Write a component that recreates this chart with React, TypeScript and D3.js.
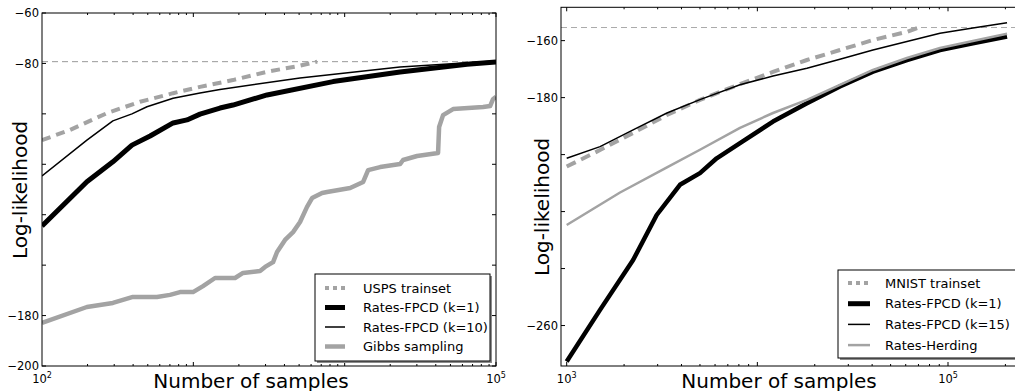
import React from "react";
import * as d3 from "d3";

const W = 1015;
const H = 391;

// ---- left panel (USPS) ----
const uspsTrainN = [100, 153, 269, 445, 735, 1107, 1828, 3070, 5070, 6580];
const uspsTrainLL = [-110.4, -106.4, -99.7, -95.2, -91.8, -89.3, -86.6, -83.3, -80.9, -79.3];

const uspsFpcd1N = [100, 198, 294, 393, 518, 735, 908, 1107, 1500, 1828, 3070, 8380, 23230, 64400, 100000];
const uspsFpcd1LL = [-144.5, -126.9, -119.0, -112.4, -108.8, -103.6, -102.4, -100.1, -97.7, -96.5, -92.5, -87.2, -83.4, -80.3, -79.4];

const uspsFpcd10N = [100, 198, 294, 393, 494, 735, 1107, 1500, 5070, 23230, 100000];
const uspsFpcd10LL = [-124.6, -110.4, -102.8, -100.0, -97.2, -93.8, -91.7, -90.3, -85.8, -81.4, -79.0];

const gibbsN = [100, 198, 294, 399, 575, 701, 817, 995, 1159, 1391, 1886, 2130, 2760, 2980, 3366, 3574, 4036, 4560, 5072, 5640, 6090, 7090, 7650, 10870, 13250, 14290, 17150, 23230, 24320, 30100, 41420, 42080, 44690, 52040, 82160, 91450, 95700, 100000];
const gibbsLL = [-182.9, -176.6, -175.0, -172.6, -172.6, -171.8, -170.7, -170.7, -168.3, -165.1, -165.1, -163.1, -162.3, -160.7, -158.8, -154.8, -150.0, -146.9, -142.9, -136.9, -133.4, -131.4, -131.0, -129.4, -127.0, -122.3, -121.1, -119.9, -118.3, -116.7, -115.5, -105.2, -100.5, -98.1, -97.3, -96.9, -94.1, -93.3];

const uspsRefLL = -79.3;

// ---- right panel (MNIST) ----
const mnistTrainN = [1000, 1496, 2230, 3356, 5000, 7450, 12070, 18200, 27100, 40400, 60900, 69500];
const mnistTrainLL = [-204.2, -198.4, -192.4, -186.1, -180.8, -176.2, -171.0, -166.8, -163.3, -159.8, -156.9, -155.5];

const mnistFpcd1N = [1000, 1496, 2230, 2965, 3926, 5000, 6120, 8110, 12080, 18200, 27100, 40400, 60900, 90800, 135000, 204000];
const mnistFpcd1LL = [-272.6, -254.5, -237.0, -221.2, -210.6, -206.5, -201.3, -196.0, -188.4, -182.0, -176.1, -170.9, -166.8, -163.3, -160.9, -158.6];

const mnistFpcd15N = [1000, 1496, 2230, 3356, 5000, 8110, 12080, 18200, 27100, 40400, 60900, 90800, 135000, 204000];
const mnistFpcd15LL = [-201.3, -197.2, -191.3, -185.4, -180.7, -175.5, -172.4, -169.7, -166.5, -163.3, -160.3, -157.4, -155.6, -153.7];

const herdingN = [1000, 1905, 3356, 5000, 8110, 12080, 18200, 27100, 40400, 60900, 90800, 135000, 204000];
const herdingLL = [-224.7, -213.3, -204.5, -198.3, -190.6, -185.4, -180.8, -175.5, -170.3, -166.1, -162.6, -160.1, -157.6];

const mnistRefLL = -155.4;

const GRAY = "#a3a3a3";
const FONT = "DejaVu Sans, sans-serif";

type Series = {
  n: number[];
  ll: number[];
  label: string;
  color: string;
  width: number;
  dash?: string;
  legendDash?: string;
  legendWidth: number;
};

const leftSeries: Series[] = [
  { n: uspsTrainN, ll: uspsTrainLL, label: "USPS trainset", color: GRAY, width: 4, dash: "9,6", legendDash: "4,4", legendWidth: 4 },
  { n: uspsFpcd1N, ll: uspsFpcd1LL, label: "Rates-FPCD (k=1)", color: "#000", width: 5, legendWidth: 5 },
  { n: uspsFpcd10N, ll: uspsFpcd10LL, label: "Rates-FPCD (k=10)", color: "#000", width: 1.5, legendWidth: 1.5 },
  { n: gibbsN, ll: gibbsLL, label: "Gibbs sampling", color: GRAY, width: 4.5, legendWidth: 4.5 },
];

const rightSeries: Series[] = [
  { n: mnistTrainN, ll: mnistTrainLL, label: "MNIST trainset", color: GRAY, width: 4, dash: "10,6", legendDash: "4,4", legendWidth: 4 },
  { n: mnistFpcd1N, ll: mnistFpcd1LL, label: "Rates-FPCD (k=1)", color: "#000", width: 4.5, legendWidth: 5 },
  { n: mnistFpcd15N, ll: mnistFpcd15LL, label: "Rates-FPCD (k=15)", color: "#000", width: 1.5, legendWidth: 1.5 },
  { n: herdingN, ll: herdingLL, label: "Rates-Herding", color: GRAY, width: 2.5, legendWidth: 2.5 },
];

type PanelProps = {
  id: string;
  left: number;
  right: number;
  top: number;
  bottom: number;
  x: d3.ScaleLogarithmic<number, number>;
  y: d3.ScaleLinear<number, number>;
  series: Series[];
  refLL: number;
  refColor: string;
  yTicks: number[];
  yLabeled: number[];
  xLabeled: number[];
  xTitleX: number;
  yTitleX: number;
  yTitleY: number;
  legend: { x0: number; x1: number; y0: number; y1: number; rowY: number; rowStep: number; lineX0: number; lineX1: number; textX: number };
};

const minus = (v: number) => (v < 0 ? "\u2212" + Math.abs(v) : String(v));

function Panel(p: PanelProps) {
  const { x, y } = p;
  const lo = x.invert(p.left);
  const hi = x.invert(p.right);
  const major: number[] = [];
  const minor: number[] = [];
  for (let d = Math.floor(Math.log10(lo)); d <= Math.ceil(Math.log10(hi)); d++) {
    for (let k = 1; k <= 9; k++) {
      const v = k * Math.pow(10, d);
      if (v < lo || v > hi) continue;
      (k === 1 ? major : minor).push(v);
    }
  }
  const line = d3
    .line<[number, number]>()
    .x((d) => x(d[0]))
    .y((d) => y(d[1]));
  const lg = p.legend;
  return (
    <g>
      <defs>
        <clipPath id={p.id}>
          <rect x={p.left} y={p.top} width={p.right - p.left} height={p.bottom - p.top} />
        </clipPath>
      </defs>
      <g clipPath={`url(#${p.id})`}>
        <line x1={p.left} x2={p.right} y1={y(p.refLL)} y2={y(p.refLL)} stroke={p.refColor} strokeWidth={1} strokeDasharray="6,4" />
        {p.series.map((s) => (
          <path
            key={s.label}
            d={line(s.n.map((n, i) => [n, s.ll[i]] as [number, number])) || ""}
            fill="none"
            stroke={s.color}
            strokeWidth={s.width}
            strokeDasharray={s.dash}
            strokeLinejoin="round"
          />
        ))}
      </g>
      {/* frame */}
      <rect x={p.left} y={p.top} width={p.right - p.left} height={p.bottom - p.top} fill="none" stroke="#000" strokeWidth={1} />
      {/* x ticks top and bottom */}
      {major.map((v) => (
        <g key={"M" + v}>
          <line x1={x(v)} x2={x(v)} y1={p.bottom} y2={p.bottom - 4} stroke="#000" />
          <line x1={x(v)} x2={x(v)} y1={p.top} y2={p.top + 4} stroke="#000" />
        </g>
      ))}
      {minor.map((v) => (
        <g key={"m" + v}>
          <line x1={x(v)} x2={x(v)} y1={p.bottom} y2={p.bottom - 2} stroke="#000" />
          <line x1={x(v)} x2={x(v)} y1={p.top} y2={p.top + 2} stroke="#000" />
        </g>
      ))}
      {p.xLabeled.map((v) => (
        <text key={"xl" + v} x={x(v)} y={383} textAnchor="middle" fontSize={11.5} fontFamily={FONT} fill="#000">
          10
          <tspan dy={-5} fontSize={8}>
            {Math.round(Math.log10(v))}
          </tspan>
        </text>
      ))}
      {/* y ticks left and right */}
      {p.yTicks.map((v) => (
        <g key={"y" + v}>
          <line x1={p.left} x2={p.left + 4} y1={y(v)} y2={y(v)} stroke="#000" />
          <line x1={p.right} x2={p.right - 4} y1={y(v)} y2={y(v)} stroke="#000" />
        </g>
      ))}
      {p.yLabeled.map((v) => (
        <text key={"yl" + v} x={p.left - 3} y={y(v)} dy="0.36em" textAnchor="end" fontSize={11.5} fontFamily={FONT} fill="#000">
          {minus(v)}
        </text>
      ))}
      {/* axis titles */}
      <text x={p.xTitleX} y={388} textAnchor="middle" fontSize={20} fontFamily={FONT} fill="#000">
        Number of samples
      </text>
      <text transform={`translate(${p.yTitleX},${p.yTitleY}) rotate(-90)`} textAnchor="middle" fontSize={20} fontFamily={FONT} fill="#000">
        Log-likelihood
      </text>
      {/* legend */}
      <rect x={lg.x0 + 2} y={lg.y0 + 2} width={lg.x1 - lg.x0} height={lg.y1 - lg.y0} fill="#8c8c8c" />
      <rect x={lg.x0} y={lg.y0} width={lg.x1 - lg.x0} height={lg.y1 - lg.y0} fill="#fff" stroke="#000" strokeWidth={1} />
      {p.series.map((s, i) => {
        const ry = lg.rowY + i * lg.rowStep;
        return (
          <g key={"lg" + s.label}>
            <line x1={lg.lineX0} x2={lg.lineX1} y1={ry} y2={ry} stroke={s.color} strokeWidth={s.legendWidth} strokeDasharray={s.legendDash} />
            <text x={lg.textX} y={ry} dy="0.36em" fontSize={13} fontFamily={FONT} fill="#000">
              {s.label}
            </text>
          </g>
        );
      })}
    </g>
  );
}

export default function App() {
  const xLeft = d3.scaleLog().domain([100, 100000]).range([42, 496]);
  const yLeft = d3.scaleLinear().domain([-200, -60]).range([366, 13]);
  const xRight = d3.scaleLog().domain([1000, 100000]).range([566.7, 948]);
  const yRight = d3.scaleLinear().domain([-274.2, -148.3]).range([366, 7.3]);

  return (
    <svg width={W} height={H} style={{ position: "absolute", left: 0, top: 0, background: "#fff" }}>
      <rect width={W} height={H} fill="#fff" />
      <Panel
        id="clipL"
        left={42}
        right={496}
        top={13}
        bottom={366}
        x={xLeft}
        y={yLeft}
        series={leftSeries}
        refLL={uspsRefLL}
        refColor="#999"
        yTicks={d3.range(-200, -59, 20)}
        yLabeled={[-60, -80, -180, -200]}
        xLabeled={[100, 100000]}
        xTitleX={251}
        yTitleX={26.5}
        yTitleY={190}
        legend={{ x0: 315, x1: 490, y0: 274, y1: 361, rowY: 288, rowStep: 19.5, lineX0: 325, lineX1: 345, textX: 363 }}
      />
      <Panel
        id="clipR"
        left={561}
        right={1022}
        top={7.3}
        bottom={366}
        x={xRight}
        y={yRight}
        series={rightSeries}
        refLL={mnistRefLL}
        refColor="#aaa"
        yTicks={d3.range(-260, -159, 20)}
        yLabeled={[-160, -180, -260]}
        xLabeled={[1000, 100000]}
        xTitleX={779}
        yTitleX={549}
        yTitleY={207}
        legend={{ x0: 838, x1: 1022, y0: 270, y1: 358, rowY: 283, rowStep: 20.7, lineX0: 848, lineX1: 870, textX: 885 }}
      />
    </svg>
  );
}
